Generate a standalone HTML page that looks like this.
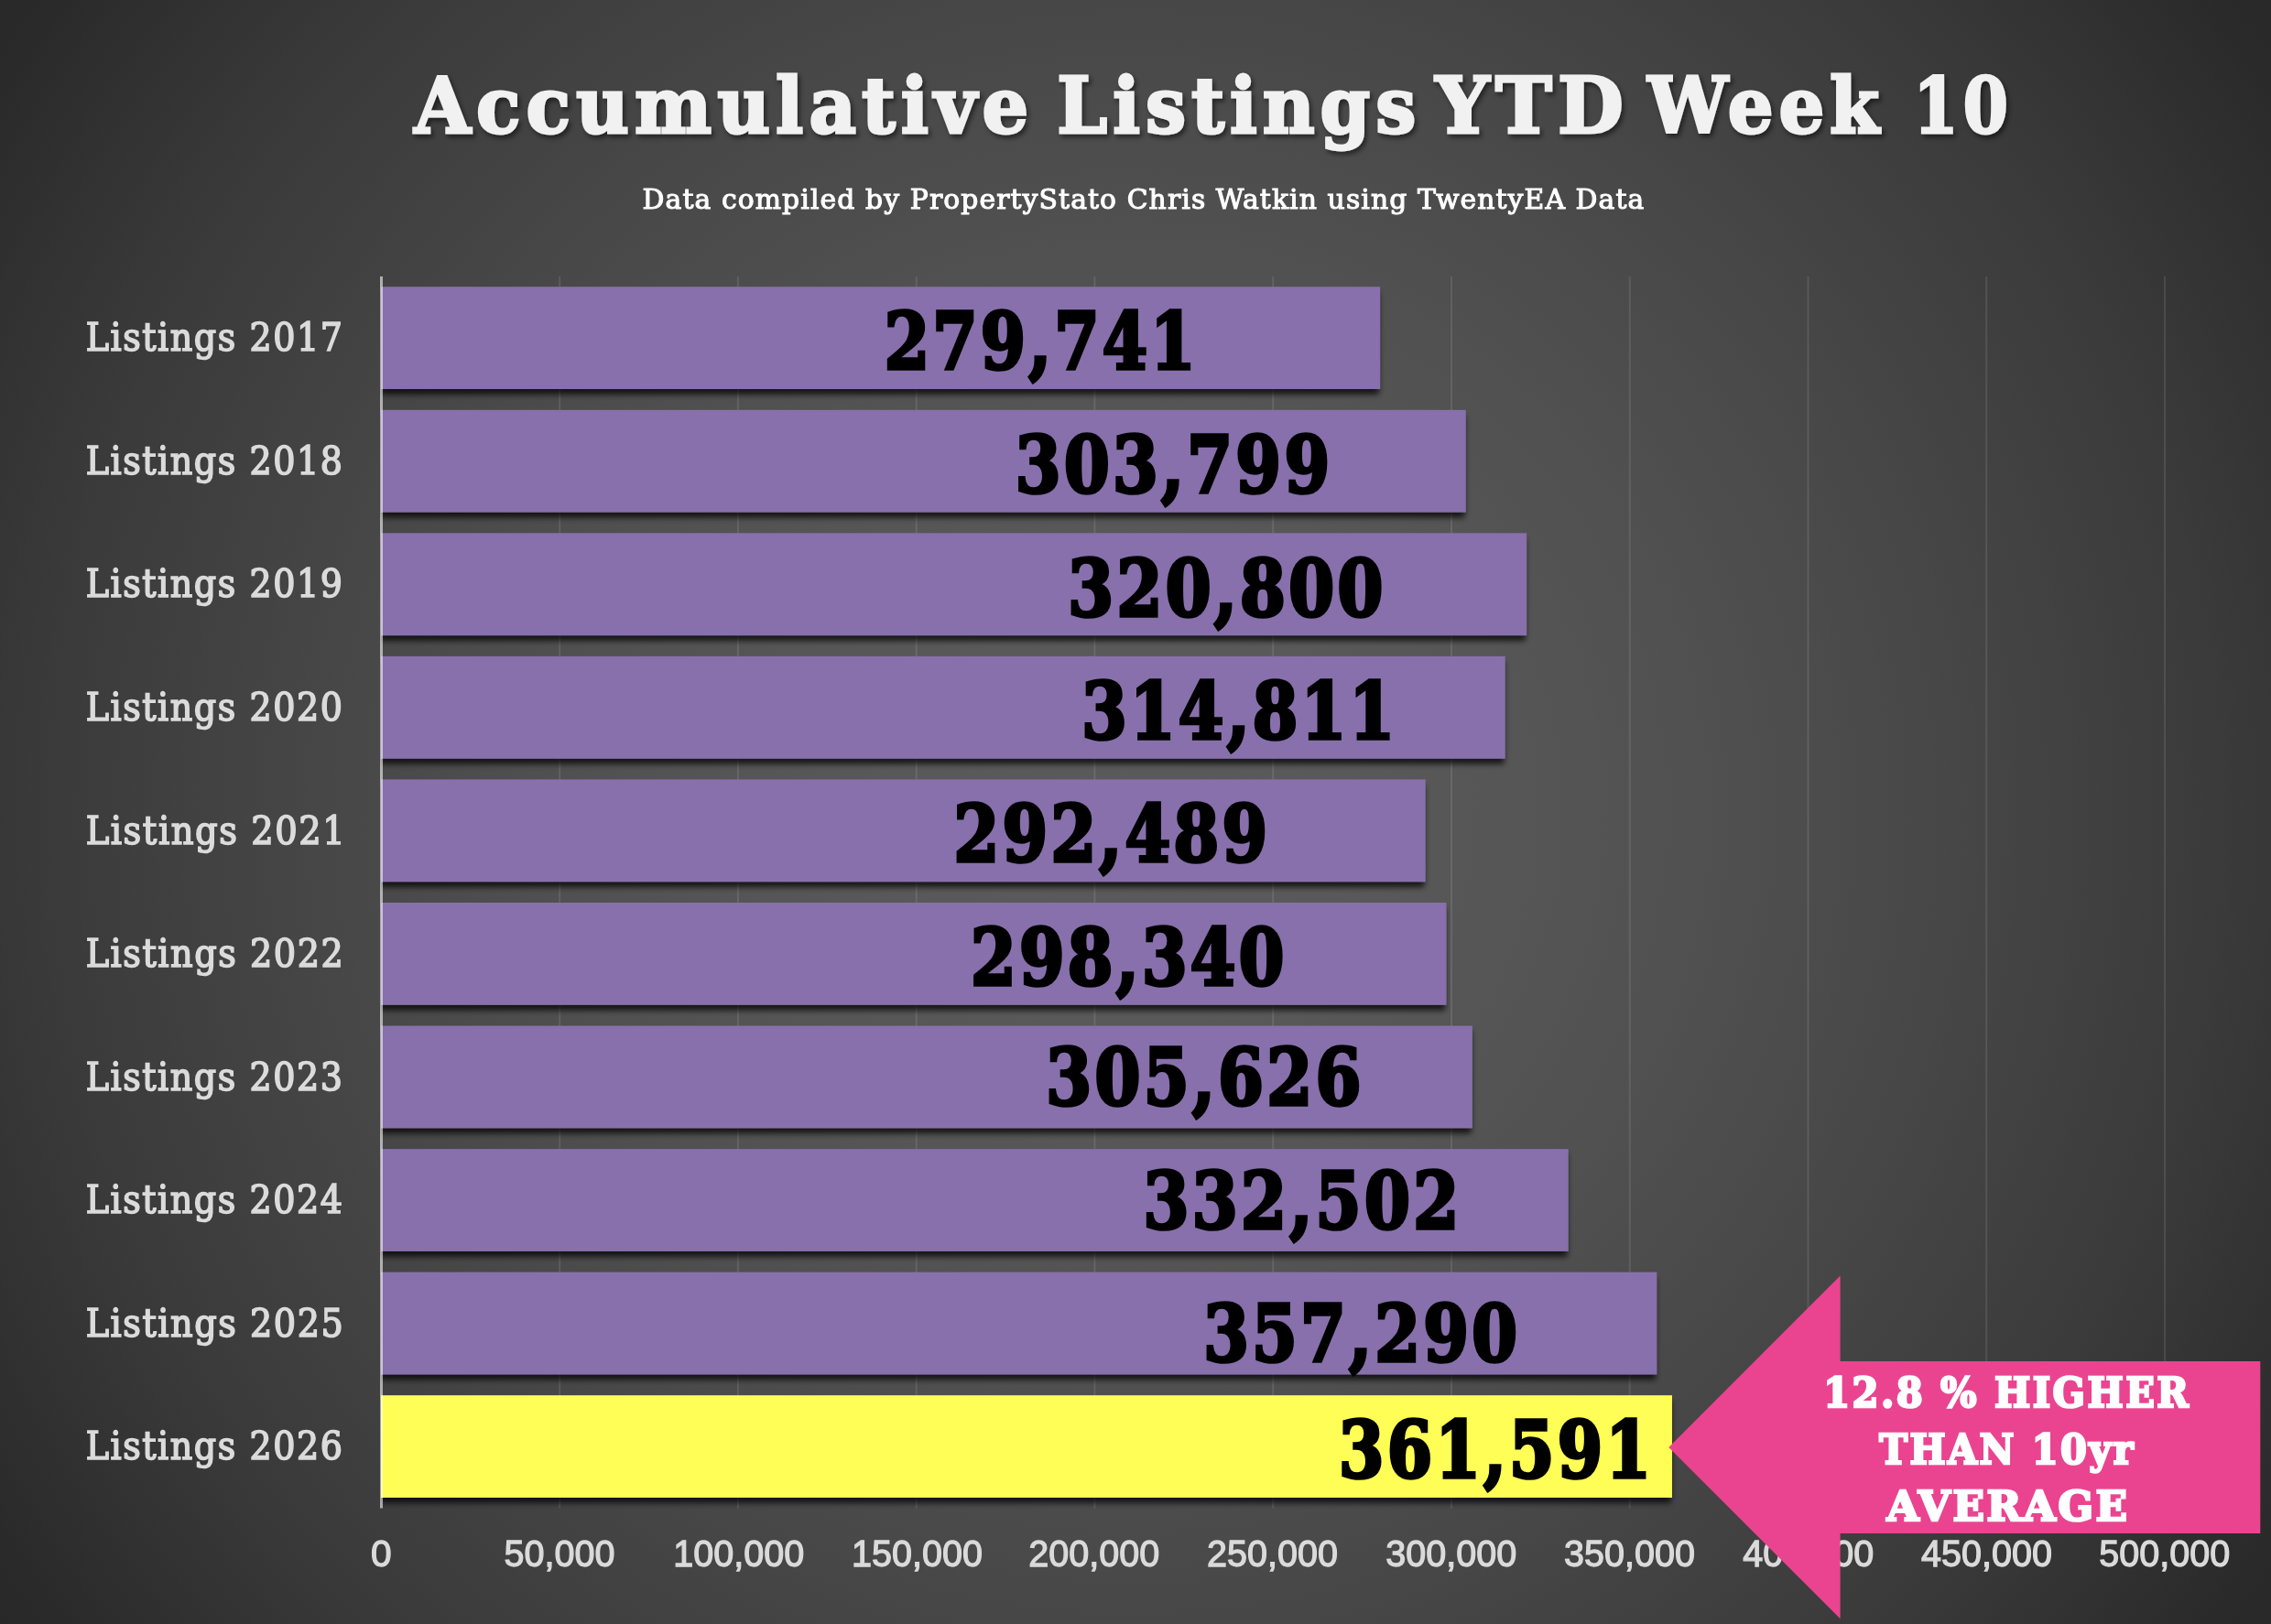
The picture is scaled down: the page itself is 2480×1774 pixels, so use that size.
<!DOCTYPE html>
<html lang="en"><head><meta charset="utf-8"><title>Accumulative Listings YTD Week 10</title>
<style>
html,body{margin:0;padding:0;background:#3a3a3a;}
body{width:2480px;height:1774px;overflow:hidden;}
svg{display:block;}
text{white-space:pre;stroke-linejoin:miter;}
.title{font-family:"DejaVu Serif", "Liberation Serif", serif;font-weight:bold;fill:#f2f2f2;stroke:#f2f2f2;}
.sub{font-family:"DejaVu Serif", "Liberation Serif", serif;fill:#fff;stroke:#fff;}
.cat{font-family:"DejaVu Serif Condensed", "DejaVu Serif", "Liberation Serif", serif;fill:#dcdcdc;stroke:#dcdcdc;}
.val{font-family:"DejaVu Serif Condensed", "DejaVu Serif", "Liberation Serif", serif;font-weight:bold;fill:#000;stroke:#000;}
.xax{font-family:"Liberation Sans", sans-serif;fill:#dbdbdb;stroke:#dbdbdb;}
.arrow{font-family:"DejaVu Serif", "Liberation Serif", serif;font-weight:bold;fill:#fff;stroke:#fff;}
</style>
</head><body>
<svg width="2480" height="1774" viewBox="0 0 2480 1774">
<defs>
<radialGradient id="bg" gradientUnits="userSpaceOnUse" cx="1240.0" cy="887.0" r="1524.6"><stop offset="0.0000" stop-color="#5a5a5a"/><stop offset="0.1502" stop-color="#595959"/><stop offset="0.2952" stop-color="#555555"/><stop offset="0.4165" stop-color="#505050"/><stop offset="0.5654" stop-color="#484848"/><stop offset="0.6756" stop-color="#414141"/><stop offset="0.7838" stop-color="#3a3a3a"/><stop offset="0.8756" stop-color="#323232"/><stop offset="0.9662" stop-color="#2a2a2a"/><stop offset="1.0000" stop-color="#282828"/></radialGradient>
<filter id="bs" filterUnits="userSpaceOnUse" x="380" y="280" width="1500" height="1400"><feDropShadow dx="-1.2" dy="5.8" stdDeviation="3" flood-color="#000" flood-opacity="0.75"/></filter>
<filter id="ts" filterUnits="userSpaceOnUse" x="400" y="40" width="1850" height="170"><feDropShadow dx="2.5" dy="3.5" stdDeviation="2.5" flood-color="#000" flood-opacity="0.5"/></filter>
<clipPath id="plot"><rect x="415" y="292.0" width="2000" height="1375.5"/></clipPath>
</defs>
<rect width="2480" height="1774" fill="url(#bg)"/>
<g stroke="#ffffff" stroke-opacity="0.10" stroke-width="2">
<line x1="611.2" y1="302.0" x2="611.2" y2="1647.5"/>
<line x1="805.9" y1="302.0" x2="805.9" y2="1647.5"/>
<line x1="1000.7" y1="302.0" x2="1000.7" y2="1647.5"/>
<line x1="1195.4" y1="302.0" x2="1195.4" y2="1647.5"/>
<line x1="1390.2" y1="302.0" x2="1390.2" y2="1647.5"/>
<line x1="1585.0" y1="302.0" x2="1585.0" y2="1647.5"/>
<line x1="1779.7" y1="302.0" x2="1779.7" y2="1647.5"/>
<line x1="1974.5" y1="302.0" x2="1974.5" y2="1647.5"/>
<line x1="2169.2" y1="302.0" x2="2169.2" y2="1647.5"/>
<line x1="2364.0" y1="302.0" x2="2364.0" y2="1647.5"/>
</g>
<g clip-path="url(#plot)"><g filter="url(#bs)">
<rect x="416" y="313.2" width="1091.1" height="111.8" fill="#876fab"/>
<rect x="416" y="447.8" width="1184.8" height="111.8" fill="#876fab"/>
<rect x="416" y="582.3" width="1251.1" height="111.8" fill="#876fab"/>
<rect x="416" y="716.9" width="1227.7" height="111.8" fill="#876fab"/>
<rect x="416" y="851.4" width="1140.7" height="111.8" fill="#876fab"/>
<rect x="416" y="986.0" width="1163.5" height="111.8" fill="#876fab"/>
<rect x="416" y="1120.5" width="1191.9" height="111.8" fill="#876fab"/>
<rect x="416" y="1255.1" width="1296.7" height="111.8" fill="#876fab"/>
<rect x="416" y="1389.6" width="1393.3" height="111.8" fill="#876fab"/>
<rect x="416" y="1524.2" width="1410.0" height="111.8" fill="#fffe56"/>
</g></g>
<line x1="416.5" y1="302.0" x2="416.5" y2="1647.5" stroke="#ffffff" stroke-opacity="0.58" stroke-width="3"/>
<g opacity="0.999">
<text class="title" font-size="84.93" stroke-width="3.0" letter-spacing="6.5" filter="url(#ts)"><tspan x="452.24" y="144.80" textLength="676.89" lengthAdjust="spacingAndGlyphs">Accumulative</tspan> <tspan x="1154.24" y="144.80" textLength="398.04" lengthAdjust="spacingAndGlyphs">Listings</tspan> <tspan x="1567.48" y="144.80" textLength="211.75" lengthAdjust="spacingAndGlyphs">YTD</tspan> <tspan x="1799.22" y="144.80" textLength="259.08" lengthAdjust="spacingAndGlyphs">Week</tspan> <tspan x="2089.40" y="144.80" textLength="108.86" lengthAdjust="spacingAndGlyphs">10</tspan></text>
<text class="sub" x="701.54" y="227.85" font-size="29.45" stroke-width="1.1" letter-spacing="1.1" textLength="1094.88" lengthAdjust="spacingAndGlyphs">Data compiled by PropertyStato Chris Watkin using TwentyEA Data</text>
<text class="cat" x="93.66" y="383.30" font-size="43.56" stroke-width="1.6" letter-spacing="1.6" textLength="281.76" lengthAdjust="spacingAndGlyphs">Listings 2017</text>
<text class="cat" x="93.66" y="517.85" font-size="43.56" stroke-width="1.6" letter-spacing="1.6" textLength="281.76" lengthAdjust="spacingAndGlyphs">Listings 2018</text>
<text class="cat" x="93.66" y="652.40" font-size="43.56" stroke-width="1.6" letter-spacing="1.6" textLength="281.76" lengthAdjust="spacingAndGlyphs">Listings 2019</text>
<text class="cat" x="93.66" y="786.95" font-size="43.56" stroke-width="1.6" letter-spacing="1.6" textLength="281.76" lengthAdjust="spacingAndGlyphs">Listings 2020</text>
<text class="cat" x="93.64" y="921.50" font-size="43.56" stroke-width="1.6" letter-spacing="1.6" textLength="284.76" lengthAdjust="spacingAndGlyphs">Listings 2021</text>
<text class="cat" x="93.65" y="1056.05" font-size="43.56" stroke-width="1.6" letter-spacing="1.6" textLength="282.75" lengthAdjust="spacingAndGlyphs">Listings 2022</text>
<text class="cat" x="93.66" y="1190.60" font-size="43.56" stroke-width="1.6" letter-spacing="1.6" textLength="281.76" lengthAdjust="spacingAndGlyphs">Listings 2023</text>
<text class="cat" x="93.66" y="1325.15" font-size="43.56" stroke-width="1.6" letter-spacing="1.6" textLength="281.76" lengthAdjust="spacingAndGlyphs">Listings 2024</text>
<text class="cat" x="93.65" y="1459.70" font-size="43.56" stroke-width="1.6" letter-spacing="1.6" textLength="282.75" lengthAdjust="spacingAndGlyphs">Listings 2025</text>
<text class="cat" x="93.66" y="1594.25" font-size="43.56" stroke-width="1.6" letter-spacing="1.6" textLength="281.76" lengthAdjust="spacingAndGlyphs">Listings 2026</text>
<text class="val" x="965.68" y="403.10" font-size="85.14" stroke-width="3.6" letter-spacing="3.6" textLength="343.17" lengthAdjust="spacingAndGlyphs">279,741</text>
<text class="val" x="1108.84" y="537.80" font-size="85.14" stroke-width="3.6" letter-spacing="3.6" textLength="346.62" lengthAdjust="spacingAndGlyphs">303,799</text>
<text class="val" x="1166.33" y="672.60" font-size="85.14" stroke-width="3.6" letter-spacing="3.6" textLength="347.31" lengthAdjust="spacingAndGlyphs">320,800</text>
<text class="val" x="1181.16" y="807.30" font-size="85.14" stroke-width="3.6" letter-spacing="3.6" textLength="345.16" lengthAdjust="spacingAndGlyphs">314,811</text>
<text class="val" x="1041.55" y="940.70" font-size="85.14" stroke-width="3.6" letter-spacing="3.6" textLength="345.79" lengthAdjust="spacingAndGlyphs">292,489</text>
<text class="val" x="1060.05" y="1076.00" font-size="85.14" stroke-width="3.6" letter-spacing="3.6" textLength="345.55" lengthAdjust="spacingAndGlyphs">298,340</text>
<text class="val" x="1142.22" y="1206.50" font-size="85.14" stroke-width="3.6" letter-spacing="3.6" textLength="347.52" lengthAdjust="spacingAndGlyphs">305,626</text>
<text class="val" x="1248.42" y="1342.00" font-size="85.14" stroke-width="3.6" letter-spacing="3.6" textLength="348.04" lengthAdjust="spacingAndGlyphs">332,502</text>
<text class="val" x="1314.14" y="1486.50" font-size="85.14" stroke-width="3.6" letter-spacing="3.6" textLength="346.17" lengthAdjust="spacingAndGlyphs">357,290</text>
<text class="val" x="1462.07" y="1613.90" font-size="85.14" stroke-width="3.6" letter-spacing="3.6" textLength="344.01" lengthAdjust="spacingAndGlyphs">361,591</text>
<text class="xax" x="404.90" y="1711.25" font-size="40.71" stroke-width="1.3">0</text>
<text class="xax" x="550.48" y="1711.25" font-size="40.71" stroke-width="1.3" textLength="121.01" lengthAdjust="spacingAndGlyphs">50,000</text>
<text class="xax" x="735.27" y="1711.25" font-size="40.71" stroke-width="1.3" textLength="143.01" lengthAdjust="spacingAndGlyphs">100,000</text>
<text class="xax" x="930.03" y="1711.25" font-size="40.71" stroke-width="1.3" textLength="143.01" lengthAdjust="spacingAndGlyphs">150,000</text>
<text class="xax" x="1123.27" y="1711.25" font-size="40.71" stroke-width="1.3" textLength="143.01" lengthAdjust="spacingAndGlyphs">200,000</text>
<text class="xax" x="1318.03" y="1711.25" font-size="40.71" stroke-width="1.3" textLength="143.01" lengthAdjust="spacingAndGlyphs">250,000</text>
<text class="xax" x="1513.28" y="1711.25" font-size="40.71" stroke-width="1.3" textLength="143.01" lengthAdjust="spacingAndGlyphs">300,000</text>
<text class="xax" x="1708.04" y="1711.25" font-size="40.71" stroke-width="1.3" textLength="143.01" lengthAdjust="spacingAndGlyphs">350,000</text>
<text class="xax" x="1903.28" y="1711.25" font-size="40.71" stroke-width="1.3" textLength="143.01" lengthAdjust="spacingAndGlyphs">400,000</text>
<text class="xax" x="2098.04" y="1711.25" font-size="40.71" stroke-width="1.3" textLength="143.01" lengthAdjust="spacingAndGlyphs">450,000</text>
<text class="xax" x="2292.32" y="1711.25" font-size="40.71" stroke-width="1.3" textLength="143.01" lengthAdjust="spacingAndGlyphs">500,000</text>
<polygon points="1822.3,1580.9 2009.6,1393.5 2009.6,1486.9 2468.3,1486.9 2468.3,1674.9 2009.6,1674.9 2009.6,1768.3" fill="#eb4591"/>
<text class="arrow" font-size="44.38" stroke-width="2.6" letter-spacing="2.6"><tspan x="1991.22" y="1536.80" textLength="401.07" lengthAdjust="spacingAndGlyphs">12.8 % HIGHER</tspan> <tspan x="2052.20" y="1599.30" textLength="279.75" lengthAdjust="spacingAndGlyphs">THAN 10yr</tspan> <tspan x="2060.42" y="1661.10" textLength="265.28" lengthAdjust="spacingAndGlyphs">AVERAGE</tspan></text>
</g>
</svg>
</body></html>
